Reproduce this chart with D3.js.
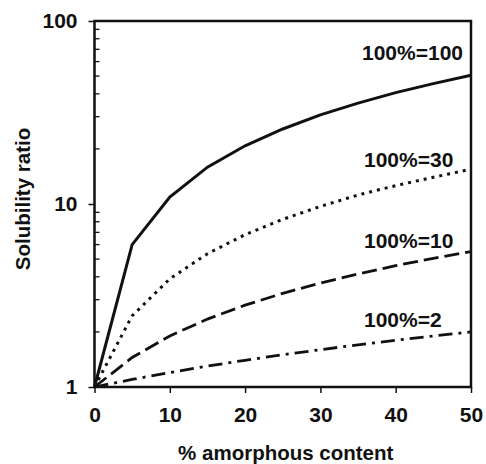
<!DOCTYPE html>
<html>
<head>
<meta charset="utf-8">
<script src="https://cdn.jsdelivr.net/npm/d3@7"></script>
<style>
  html, body { margin: 0; padding: 0; background: #fff; }
  svg { display: block; }
  text { font-family: "Liberation Sans", Arial, sans-serif; fill: #111; }
</style>
</head>
<body>
<svg id="chart" width="486" height="464"></svg>
<script>
// Data
const amorphous = [0, 5, 10, 15, 20, 25, 30, 35, 40, 45, 50];
const ratio100 = [1, 6.0, 10.9, 15.9, 20.8, 25.7, 30.7, 35.6, 40.6, 45.5, 50.5];
const ratio30  = [1, 2.45, 3.9, 5.35, 6.8, 8.25, 9.7, 11.2, 12.6, 14.0, 15.5];
const ratio10  = [1, 1.45, 1.9, 2.35, 2.8, 3.25, 3.7, 4.15, 4.6, 5.05, 5.5];
const ratio2   = [1, 1.1, 1.2, 1.3, 1.4, 1.5, 1.6, 1.7, 1.8, 1.9, 2.0];
const seriesLabels = ["100%=100", "100%=30", "100%=10", "100%=2"];
const xTicks = [0, 10, 20, 30, 40, 50];
const yTicks = [1, 10, 100];

const svg = d3.select("#chart");
const pL = 94.5, pR = 471, pT = 21, pB = 387;
const FS = 21;

const x = d3.scaleLinear().domain([0, 50]).range([pL, pR]);
const y = d3.scaleLog().domain([1, 100]).range([pB, pT]);

// minor ticks on log axis (inward)
const minor = [];
for (const d of [1, 10]) for (let k = 2; k <= 9; k++) minor.push(d * k);
svg.append("g").selectAll("line").data(minor).join("line")
  .attr("x1", pL).attr("x2", pL + 5)
  .attr("y1", d => y(d)).attr("y2", d => y(d))
  .attr("stroke", "#111").attr("stroke-width", 1.3);

// major y ticks (outward) + labels
const yAxis = d3.axisLeft(y).tickValues(yTicks).tickFormat(d3.format("d")).tickSize(6).tickPadding(11);
const gy = svg.append("g").attr("transform", `translate(${pL},0)`).call(yAxis);
gy.select(".domain").remove();
gy.selectAll(".tick line").attr("stroke", "#111").attr("stroke-width", 1.5);
gy.selectAll(".tick text").attr("font-size", FS).attr("font-weight", "bold")
  .attr("font-family", "'Liberation Sans', Arial, sans-serif").attr("fill", "#111");

// x axis
const xAxis = d3.axisBottom(x).tickValues(xTicks).tickSize(6).tickPadding(14);
const gx = svg.append("g").attr("transform", `translate(0,${pB})`).call(xAxis);
gx.select(".domain").remove();
gx.selectAll(".tick line").attr("stroke", "#111").attr("stroke-width", 1.5);
gx.selectAll(".tick text").attr("font-size", FS).attr("font-weight", "bold")
  .attr("font-family", "'Liberation Sans', Arial, sans-serif").attr("fill", "#111");

// frame
svg.append("rect").attr("x", pL).attr("y", pT)
  .attr("width", pR - pL).attr("height", pB - pT)
  .attr("fill", "none").attr("stroke", "#111").attr("stroke-width", 2.5);

// curves
const line = d3.line().x(d => x(d[0])).y(d => y(d[1]));
const series = [
  { v: ratio100, dash: null, w: 3 },
  { v: ratio30, dash: "3,5", w: 3 },
  { v: ratio10, dash: "15,6", w: 2.8 },
  { v: ratio2, dash: "14,6,3,6", w: 2.8 }
];
series.forEach(s => {
  svg.append("path")
    .datum(amorphous.map((a, i) => [a, s.v[i]]))
    .attr("d", line)
    .attr("fill", "none").attr("stroke", "#111")
    .attr("stroke-width", s.w)
    .attr("stroke-dasharray", s.dash);
});

// curve labels
const labelY = [60, 167, 248, 327];
seriesLabels.forEach((t, i) => {
  svg.append("text").attr("x", i === 0 ? 463 : 364).attr("y", labelY[i])
    .attr("text-anchor", i === 0 ? "end" : "start")
    .attr("font-size", FS).attr("font-weight", "bold").text(t);
});

// axis titles
svg.append("text").attr("x", (pL + pR) / 2 + 3).attr("y", 460)
  .attr("text-anchor", "middle").attr("font-size", 20.5).attr("font-weight", "bold")
  .text("% amorphous content");
svg.append("text").attr("transform", "translate(30,199) rotate(-90)")
  .attr("text-anchor", "middle").attr("font-size", 20.5).attr("font-weight", "bold")
  .text("Solubility ratio");
</script>
</body>
</html>
